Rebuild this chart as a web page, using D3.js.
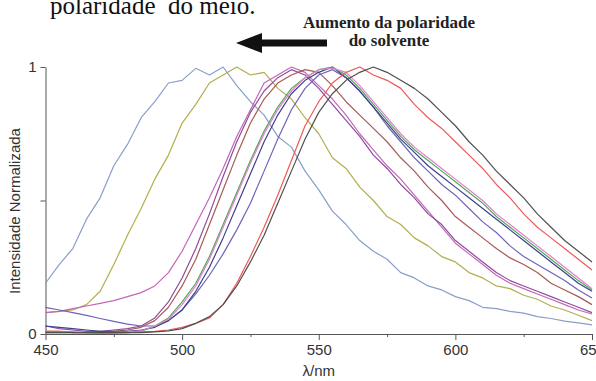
<!DOCTYPE html>
<html>
<head>
<meta charset="utf-8">
<script src="https://cdn.jsdelivr.net/npm/d3@7"></script>
<style>
  body { margin: 0; background: #fff; }
  svg { display: block; }
  .axis text { font-family: "Liberation Sans", Arial, sans-serif; font-size: 15px; fill: #333; }
  .axis path, .axis line { stroke: #555; stroke-width: 1; }
</style>
</head>
<body>
<div class="container"></div>
<script>
// wavelengths (nm), every 5 nm
const wavelengths = [450, 455, 460, 465, 470, 475, 480, 485, 490, 495, 500, 505, 510, 515, 520, 525, 530, 535, 540, 545,
  550, 555, 560, 565, 570, 575, 580, 585, 590, 595, 600, 605, 610, 615, 620, 625, 630, 635, 640, 645, 650];

// normalized emission, one array per solvent
const lightBlue = [.19, .26, .32, .43, .51, .63, .71, .81, .87, .94, .95, .995, .97, 1.0, .93, .87, .82, .74, .70, .61,
  .54, .46, .41, .35, .31, .28, .23, .21, .18, .165, .14, .125, .10, .095, .085, .078, .065, .058, .048, .042, .034];
const olive = [.08, .085, .09, .11, .16, .26, .37, .47, .58, .67, .79, .86, .94, .97, 1.0, .97, .98, .92, .88, .81,
  .75, .66, .62, .55, .50, .44, .41, .36, .33, .29, .27, .23, .21, .18, .17, .145, .13, .105, .09, .07, .05];
const magenta = [.08, .085, .095, .105, .115, .125, .14, .155, .18, .23, .31, .41, .51, .62, .74, .84, .94, .97, 1.0, .98,
  .93, .88, .82, .75, .69, .63, .58, .52, .46, .40, .34, .30, .26, .22, .19, .17, .15, .13, .11, .09, .075];
const purple = [.03, .02, .015, .01, .01, .015, .02, .03, .06, .12, .21, .32, .45, .59, .72, .83, .91, .96, .99, .97,
  .92, .86, .80, .74, .67, .62, .56, .51, .45, .41, .35, .31, .27, .23, .20, .18, .16, .14, .12, .10, .08];
const brown = [.01, .01, .005, .005, .005, .01, .015, .025, .05, .10, .18, .28, .41, .54, .67, .79, .88, .94, .97, .99,
  .98, .93, .87, .82, .77, .72, .66, .61, .55, .50, .44, .40, .36, .32, .285, .26, .23, .19, .165, .14, .11];
const blueViolet = [.10, .09, .08, .07, .058, .047, .037, .03, .03, .05, .09, .15, .22, .30, .39, .49, .61, .73, .84, .92,
  .97, .99, .96, .91, .85, .78, .72, .66, .61, .56, .52, .47, .42, .38, .33, .29, .26, .23, .20, .165, .135];
const navy = [.03, .025, .02, .015, .01, .01, .01, .015, .025, .05, .09, .16, .25, .36, .48, .60, .72, .82, .90, .95,
  .98, 1.0, .96, .91, .85, .79, .73, .68, .63, .59, .55, .51, .47, .43, .39, .35, .31, .27, .23, .19, .16];
const green = [.005, .005, .005, .005, .005, .005, .005, .01, .03, .06, .12, .19, .29, .41, .53, .65, .76, .85, .92, .96,
  .99, 1.0, .97, .92, .86, .80, .74, .69, .65, .61, .57, .53, .49, .44, .40, .36, .32, .28, .24, .20, .165];
const pink = [.01, .008, .006, .005, .005, .006, .008, .012, .03, .055, .11, .18, .28, .40, .52, .64, .75, .84, .91, .96,
  .99, .995, .98, .93, .87, .81, .75, .70, .66, .62, .58, .54, .50, .45, .41, .37, .33, .29, .25, .21, .17];
const red = [.01, .01, .008, .005, .003, .003, .005, .008, .01, .015, .025, .04, .06, .11, .19, .29, .40, .52, .65, .78,
  .87, .94, .98, 1.0, .97, .95, .92, .86, .81, .77, .72, .67, .62, .56, .51, .45, .40, .36, .32, .28, .24];
const black = [.005, .005, .005, .005, .005, .005, .005, .005, .008, .012, .02, .04, .065, .11, .18, .27, .37, .49, .61, .73,
  .83, .90, .95, .98, 1.0, .98, .95, .92, .88, .83, .78, .72, .67, .61, .56, .51, .45, .40, .35, .31, .27];

const series = [
  {name: 'lightBlue', color: '#8a9ecb', values: lightBlue},
  {name: 'olive', color: '#b4ad4e', values: olive},
  {name: 'magenta', color: '#c466b8', values: magenta},
  {name: 'purple', color: '#8e4c9e', values: purple},
  {name: 'brown', color: '#a65a55', values: brown},
  {name: 'blueViolet', color: '#6f64b6', values: blueViolet},
  {name: 'navy', color: '#3e408e', values: navy},
  {name: 'green', color: '#55a855', values: green},
  {name: 'pink', color: '#e07fd0', values: pink},
  {name: 'red', color: '#f05858', values: red},
  {name: 'black', color: '#505050', values: black}
];

const xTicks = [450, 500, 550, 600, 650];
const xMinorTicks = [475, 525, 575, 625];
const yTicks = [0, 0.5, 1];

const width = 596, height = 381;

const svg = d3.select('.container')
  .append('svg')
  .attr('width', width)
  .attr('height', height);

const x = d3.scaleLinear().domain([450, 650]).range([45.5, 592]);
const y = d3.scaleLinear().domain([0, 1]).range([334, 67]);

// caption fragment at the top (cut off in the original)
svg.append('text')
  .attr('x', 50).attr('y', 14)
  .style('white-space', 'pre')
  .attr('font-family', '"Liberation Serif", "Times New Roman", serif')
  .attr('font-size', 25)
  .attr('fill', '#111')
  .text('polaridade  do meio.');

// arrow
svg.append('path')
  .attr('d', 'M236,43 L262,33 L262,39.5 L327,39.5 L327,46.5 L262,46.5 L262,53 Z')
  .attr('fill', '#111');

const note = svg.append('g')
  .attr('font-family', '"Liberation Serif", "Times New Roman", serif')
  .attr('font-weight', 'bold')
  .attr('font-size', 17)
  .attr('fill', '#222')
  .attr('text-anchor', 'middle');
note.append('text').attr('x', 389).attr('y', 28).text('Aumento da polaridade');
note.append('text').attr('x', 389).attr('y', 46).text('do solvente');

// axes
svg.append('g')
  .attr('class', 'axis')
  .attr('transform', `translate(0,${y(0)})`)
  .call(d3.axisBottom(x).tickValues(xTicks).tickSize(6).tickSizeOuter(0).tickPadding(4).tickFormat(d3.format('d')));

svg.append('g')
  .attr('class', 'axis')
  .attr('transform', `translate(0,${y(0)})`)
  .call(d3.axisBottom(x).tickValues(xMinorTicks).tickSize(3).tickSizeOuter(0).tickFormat(''))
  .select('.domain').remove();

svg.append('g')
  .attr('class', 'axis')
  .attr('transform', `translate(${x(450)},0)`)
  .call(d3.axisLeft(y).tickValues(yTicks).tickSize(5).tickSizeOuter(0).tickPadding(4)
    .tickFormat(d => d === 0.5 ? '' : d3.format('d')(d)));

// axis titles
svg.append('text')
  .attr('transform', 'translate(20,211) rotate(-90)')
  .attr('text-anchor', 'middle')
  .attr('font-family', '"Liberation Sans", Arial, sans-serif')
  .attr('font-size', 15)
  .attr('fill', '#333')
  .text('Intensidade Normalizada');

svg.append('text')
  .attr('x', (x(450) + x(650)) / 2).attr('y', 376)
  .attr('text-anchor', 'middle')
  .attr('font-family', '"Liberation Sans", Arial, sans-serif')
  .attr('font-size', 15)
  .attr('fill', '#333')
  .text('λ/nm');

// spectra
const line = d3.line()
  .x((d, i) => x(wavelengths[i]))
  .y(d => y(d));

svg.append('g')
  .selectAll('path')
  .data(series)
  .enter().append('path')
  .attr('d', d => line(d.values))
  .attr('fill', 'none')
  .attr('stroke', d => d.color)
  .attr('stroke-width', 1.2)
  .attr('stroke-linejoin', 'round');
</script>
</body>
</html>
